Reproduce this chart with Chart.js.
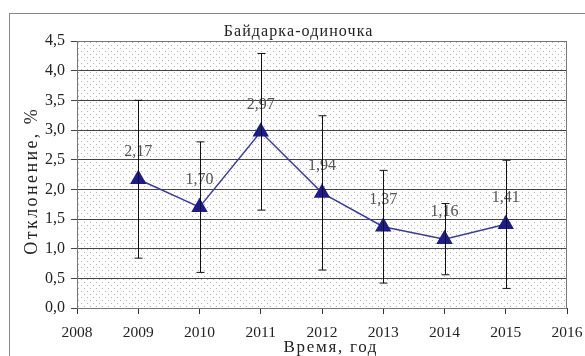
<!DOCTYPE html>
<html>
<head>
<meta charset="utf-8">
<script src="https://cdn.jsdelivr.net/npm/chart.js@4/dist/chart.umd.min.js"></script>
<style>
  html, body { margin: 0; padding: 0; background: #fff; }
  #wrap { position: relative; width: 585px; height: 356px; }
</style>
</head>
<body>
<div id="wrap"><canvas id="c"></canvas></div>
<script>
// Годы и средние отклонения (%)
const years = [2009, 2010, 2011, 2012, 2013, 2014, 2015];
const meanDeviation = [2.17, 1.70, 2.97, 1.94, 1.37, 1.16, 1.41];
// Разброс (± стандартное отклонение)
const spread = [1.33, 1.10, 1.32, 1.30, 0.95, 0.60, 1.08];
// Подписи значений
const valueLabels = ['2,17', '1,70', '2,97', '1,94', '1,37', '1,16', '1,41'];

const chartTitle = 'Байдарка-одиночка';
const yTitle = 'Отклонение, %';
const xTitle = 'Время, год';

const serif = '"Liberation Serif", "Times New Roman", serif';

// Точечная заливка области построения
function dotPattern(ctx) {
  const p = document.createElement('canvas');
  p.width = 6; p.height = 6;
  const pc = p.getContext('2d');
  pc.fillStyle = '#fff';
  pc.fillRect(0, 0, 6, 6);
  pc.fillStyle = '#b0b0b0';
  pc.fillRect(0, 0, 1, 1);
  pc.fillRect(3, 3, 1, 1);
  return ctx.createPattern(p, 'repeat');
}

function spacedText(ctx, text, x, y, spacing) {
  ctx.letterSpacing = spacing + 'px';
  ctx.fillText(text, x + spacing / 2, y);
  ctx.letterSpacing = '0px';
}

const frame = {
  id: 'frame',
  beforeDraw(chart) {
    const { ctx, chartArea: a } = chart;
    ctx.save();
    ctx.fillStyle = dotPattern(ctx);
    ctx.fillRect(a.left, a.top, a.right - a.left, a.bottom - a.top);
    // внешняя рамка диаграммы
    ctx.strokeStyle = '#888';
    ctx.lineWidth = 1;
    ctx.strokeRect(9.5, 13.5, 700, 500);
    // заголовок и подписи осей
    ctx.fillStyle = '#222';
    ctx.textAlign = 'center';
    ctx.textBaseline = 'alphabetic';
    ctx.font = '16px ' + serif;
    spacedText(ctx, chartTitle, 298, 36, 1.1);
    ctx.font = '17px ' + serif;
    spacedText(ctx, xTitle, 330, 352, 1.7);
    ctx.translate(37, 182);
    ctx.rotate(-Math.PI / 2);
    ctx.font = '18px ' + serif;
    spacedText(ctx, yTitle, 0, 0, 2.4);
    ctx.restore();
  },
  afterDatasetsDraw(chart) {
    const { ctx, chartArea: a } = chart;
    const x = chart.scales.x, y = chart.scales.y;
    ctx.save();
    // рамка области построения
    ctx.strokeStyle = '#777';
    ctx.lineWidth = 1;
    ctx.strokeRect(a.left + 0.5, a.top + 0.5, a.right - a.left - 1, a.bottom - a.top);
    // подписи значений
    ctx.fillStyle = '#555';
    ctx.font = '16px ' + serif;
    ctx.textAlign = 'center';
    ctx.textBaseline = 'middle';
    years.forEach((yr, i) => {
      ctx.fillText(valueLabels[i], x.getPixelForValue(yr), y.getPixelForValue(meanDeviation[i]) - 27);
    });
    // планки погрешностей
    ctx.strokeStyle = '#111';
    ctx.lineWidth = 1;
    years.forEach((yr, i) => {
      const px = Math.round(x.getPixelForValue(yr)) + 0.5;
      const hi = y.getPixelForValue(meanDeviation[i] + spread[i]);
      const lo = y.getPixelForValue(meanDeviation[i] - spread[i]);
      ctx.beginPath();
      ctx.moveTo(px, hi); ctx.lineTo(px, lo);
      ctx.moveTo(px - 4, hi); ctx.lineTo(px + 4, hi);
      ctx.moveTo(px - 4, lo); ctx.lineTo(px + 4, lo);
      ctx.stroke();
    });
    ctx.restore();
  }
};

new Chart(document.getElementById('c'), {
  type: 'line',
  data: {
    datasets: [{
      data: years.map((yr, i) => ({ x: yr, y: meanDeviation[i] })),
      borderColor: '#3a3aa8',
      borderWidth: 1.5,
      backgroundColor: '#1c1c8e',
      pointStyle: 'triangle',
      pointRadius: 8,
      pointHoverRadius: 8,
      pointBorderColor: '#1c1c8e',
      tension: 0
    }]
  },
  plugins: [frame],
  options: {
    responsive: true,
    maintainAspectRatio: false,
    animation: false,
    events: [],
    layout: { padding: { left: 0, top: 41, right: 18, bottom: 0 } },
    plugins: { legend: { display: false }, tooltip: { enabled: false } },
    scales: {
      x: {
        type: 'linear',
        min: 2008, max: 2016,
        afterFit(s) { s.height = 48; s.paddingLeft = 0; s.paddingRight = 0; },
        ticks: { stepSize: 1, color: '#222', font: { family: serif, size: 15.5 }, padding: 10,
                 callback: v => String(v), maxRotation: 0 },
        grid: { display: true, drawOnChartArea: false, drawTicks: true, tickLength: 6, color: '#333' },
        border: { display: true, color: '#333' }
      },
      y: {
        min: 0, max: 4.5,
        afterFit(s) { s.width = 77; s.paddingTop = 0; s.paddingBottom = 0; },
        ticks: { stepSize: 0.5, color: '#222', font: { family: serif, size: 16 }, padding: 6,
                 callback: v => v.toFixed(1).replace('.', ',') },
        grid: { color: '#444', lineWidth: 1, tickLength: 6 },
        border: { display: true, color: '#333' }
      }
    }
  }
});
</script>
</body>
</html>
